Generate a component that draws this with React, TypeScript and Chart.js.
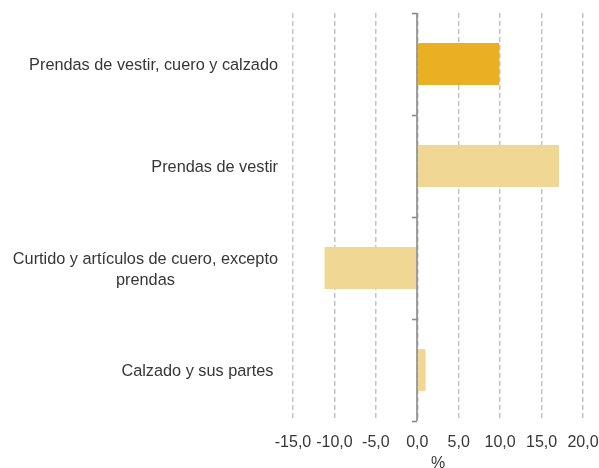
import React, { useEffect, useRef } from "react";
import { Chart, registerables } from "chart.js";

Chart.register(...registerables);

const categories: string[][] = [
  ["Prendas de vestir, cuero y calzado"],
  ["Prendas de vestir"],
  ["Curtido y artículos de cuero, excepto", "prendas"],
  ["Calzado y sus partes "],
];
const values: number[] = [9.9, 17.1, -11.2, 1.0];
const barColors: string[] = ["#E9B023", "#F0D794", "#F0D794", "#F0D794"];
const xTicks: number[] = [-15, -10, -5, 0, 5, 10, 15, 20];
const xTitle = "%";

const FONT = "'Liberation Sans', Arial, sans-serif";

const overlayPlugin = {
  id: "overlay",
  afterDatasetsDraw(chart: any) {
    const { ctx, chartArea, scales } = chart;
    const x = scales.x;
    const y = scales.y;
    const zx = Math.round(x.getPixelForValue(0));
    ctx.save();
    ctx.strokeStyle = "#8a8a8a";
    ctx.lineWidth = 1.6;
    ctx.beginPath();
    ctx.moveTo(zx, chartArea.top);
    ctx.lineTo(zx, chartArea.bottom);
    ctx.stroke();
    const n = categories.length;
    for (let i = 0; i <= n; i++) {
      const yy =
        i === 0
          ? chartArea.top
          : i === n
          ? chartArea.bottom
          : (y.getPixelForValue(i - 1) + y.getPixelForValue(i)) / 2;
      ctx.beginPath();
      ctx.moveTo(zx - 5, Math.round(yy) + 0.5);
      ctx.lineTo(zx, Math.round(yy) + 0.5);
      ctx.stroke();
    }
    ctx.fillStyle = "#363636";
    ctx.font = "16.3px " + FONT;
    ctx.textBaseline = "middle";
    const rightX = chartArea.left - 15;
    const lh = 21;
    categories.forEach((lines, i) => {
      const cy = y.getPixelForValue(i) + 2;
      const widths = lines.map((l) => ctx.measureText(l).width);
      const widest = Math.max(...widths);
      const cx = rightX - widest / 2;
      const startY = cy - ((lines.length - 1) * lh) / 2;
      lines.forEach((l, j) => {
        ctx.textAlign = "center";
        ctx.fillText(l, lines.length > 1 ? cx : rightX - widths[j] / 2, startY + j * lh);
      });
    });
    ctx.restore();
  },
};

export default function App() {
  const ref = useRef<HTMLCanvasElement>(null);
  useEffect(() => {
    if (!ref.current) return;
    const chart = new Chart(ref.current, {
      type: "bar",
      data: {
        labels: categories.map((c) => c.join(" ")),
        datasets: [
          {
            data: values,
            backgroundColor: barColors,
            borderWidth: 0,
            categoryPercentage: 1,
            barPercentage: 0.41,
          },
        ],
      },
      options: {
        indexAxis: "y",
        animation: false,
        responsive: false,
        maintainAspectRatio: false,
        layout: { padding: { left: 293, right: 16, top: 13, bottom: 0 } },
        plugins: {
          legend: { display: false },
          tooltip: { enabled: false },
        },
        scales: {
          y: {
            display: false,
          },
          x: {
            min: -15,
            max: 20,
            afterBuildTicks: (scale: any) => {
              scale.ticks = xTicks.map((v) => ({ value: v }));
            },
            afterFit: (scale: any) => {
              scale.paddingRight = 0;
              scale.paddingLeft = 0;
              scale.height = 47;
            },
            ticks: {
              padding: 12,
              maxRotation: 0,
              minRotation: 0,
              autoSkip: false,
              color: "#363636",
              font: { family: FONT, size: 16 },
              callback: (v: any) => Number(v).toFixed(1).replace(".", ","),
            },
            grid: {
              drawTicks: false,
              color: "#c4c4c4",
              lineWidth: 1.5,
            },
            border: { display: false, dash: [5, 3] },
            title: {
              display: true,
              text: xTitle,
              color: "#363636",
              font: { family: FONT, size: 16 },
              padding: { top: 0, bottom: -5.5 },
            },
          },
        },
      },
      plugins: [overlayPlugin],
    });
    return () => chart.destroy();
  }, []);
  return (
    <div style={{ position: "absolute", left: 0, top: 0, width: 599, height: 468, background: "#fff" }}>
      <canvas ref={ref} width={599} height={468} style={{ width: 599, height: 468 }} />
    </div>
  );
}
